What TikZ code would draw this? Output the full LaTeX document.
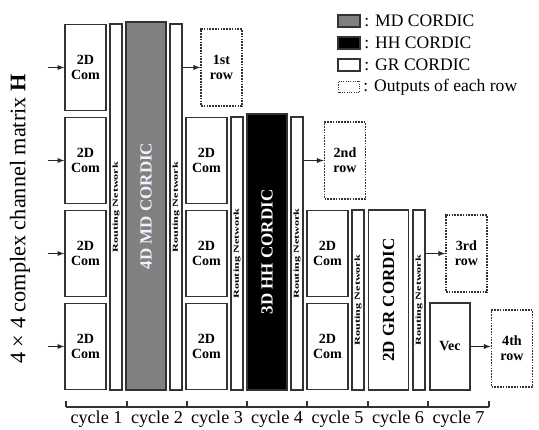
\documentclass[tikz,border=0pt]{standalone}
\usepackage{fontspec}
\setmainfont{Liberation Serif}
\usetikzlibrary{positioning,arrows}

\tikzset{
  blk/.style={draw=black!80, line width=1.2pt, inner sep=0pt},
  com/.style={blk, fill=white, minimum width=1.23cm, minimum height=2.58cm,
    align=center, font=\fontsize{12}{12.5}\selectfont\bfseries},
  rnet/.style={blk, fill=white, minimum width=0.36cm},
  rnettxt/.style={rotate=90, xscale=1.6, inner sep=0pt, font=\fontsize{6.5}{7}\selectfont\bfseries},
  cordic/.style={blk, minimum width=1.2cm},
  cordtxt/.style={rotate=90, inner sep=0pt, font=\fontsize{14.5}{15}\selectfont\bfseries},
  outrow/.style={draw=black!80, line width=1.4pt, densely dotted, inner sep=0pt,
    minimum width=1.23cm, minimum height=2.31cm, align=center,
    font=\fontsize{12}{12.5}\selectfont\bfseries},
  flow/.style={-latex, line width=1pt, black!85},
  legbox/.style={blk, minimum width=0.66cm, minimum height=0.36cm},
  legtxt/.style={inner sep=0pt, font=\fontsize{15}{16}\selectfont},
  cyc/.style={inner sep=0pt, font=\fontsize{15.5}{16}\selectfont}
}

\begin{document}
\begin{tikzpicture}[x=0.03cm, y=-0.03cm]
    \useasboundingbox (0,0) rectangle (539,430);

    % input label
    \node[rotate=90, font=\fontsize{19}{20}\selectfont] (hlab) at (20,219) {4 × 4 complex channel matrix \textbf{H}};

    % cycle 1
    \node[com] (c1r1) at (85.5,67.5) {2D\\Com};
    \node[com] (c1r2) at (85.5,160.5) {2D\\Com};
    \node[com] (c1r3) at (85.5,253.5) {2D\\Com};
    \node[com] (c1r4) at (85.5,346.5) {2D\\Com};
    \foreach \r in {1,...,4}
      \draw[flow] ([xshift=-0.5cm]c1r\r.west) -- (c1r\r.west);
    \node[rnet, minimum height=10.98cm, label={[rnettxt]center:Routing Network}] (rn1) at (116,207) {};

    % cycle 2
    \node[cordic, fill=black!50, minimum height=11.04cm,
      label={[cordtxt, text=blue!5]center:4D MD CORDIC}] (md) at (146,206) {};
    \node[rnet, minimum height=10.98cm, label={[rnettxt]center:Routing Network}] (rn2) at (176,207) {};
    \node[outrow] (out1) at (221.5,67.5) {1st\\row};
    \draw[flow] (rn2.east |- out1) -- (out1.west);

    % cycles 3 and 4
    \node[com] (c3r2) at (206.5,160.5) {2D\\Com};
    \node[com] (c3r3) at (206.5,253.5) {2D\\Com};
    \node[com] (c3r4) at (206.5,346.5) {2D\\Com};
    \node[rnet, minimum height=8.19cm, label={[rnettxt]center:Routing Network}] (rn3) at (237,253.5) {};
    \node[cordic, fill=black, minimum height=8.28cm,
      label={[cordtxt, text=white]center:3D HH CORDIC}] (hh) at (267,252) {};
    \node[rnet, minimum height=8.19cm, label={[rnettxt]center:Routing Network}] (rn4) at (297,253.5) {};
    \node[outrow] (out2) at (345,160.5) {2nd\\row};
    \draw[flow] (rn4.east |- out2) -- (out2.west);

    % cycles 5 and 6
    \node[com] (c5r3) at (327.5,253.5) {2D\\Com};
    \node[com] (c5r4) at (327.5,346.5) {2D\\Com};
    \node[rnet, minimum height=5.4cm, label={[rnettxt]center:Routing Network}] (rn5) at (358,300) {};
    \node[cordic, fill=white, minimum height=5.4cm,
      label={[cordtxt]center:2D GR CORDIC}] (gr) at (388.5,300) {};
    \node[rnet, minimum height=5.4cm, label={[rnettxt]center:Routing Network}] (rn6) at (419,300) {};
    \node[outrow] (out3) at (466.5,253.5) {3rd\\row};
    \draw[flow] (rn6.east |- out3) -- (out3.west);

    % cycle 7
    \node[blk, fill=white, minimum width=1.2cm, minimum height=2.61cm,
      font=\fontsize{12}{12.5}\selectfont\bfseries] (vec) at (450,346.5) {Vec};
    \node[outrow] (out4) at (512,348.5) {4th\\row};
    \draw[flow] (vec.east) -- (vec.east -| out4.west);

    % legend
    \node[legbox, fill=black!50] (lgmd) at (349,21) {};
    \node[legbox, fill=black] (lghh) at (349,43) {};
    \node[legbox, fill=white] (lggr) at (349,65) {};
    \node[legbox, draw=none, minimum width=0.6cm, minimum height=0.3cm] (lgout) at (349,87) {};
    \draw[black!80, line width=1pt, densely dotted] (lgout.south west) rectangle (lgout.north east);
    \node[legtxt, right=3pt of lgmd] (tmd) {: MD CORDIC};
    \node[legtxt, right=3pt of lghh] (thh) {: HH CORDIC};
    \node[legtxt, right=3pt of lggr] (tgr) {: GR CORDIC};
    \node[legtxt, right=3pt of lgout] (tout) {: Outputs of each row};

    % time axis
    \draw[line width=1pt, black!80] (66,407) -- (489,407);
    \foreach \x in {66,127,187,247,307,368,428,489}
      \draw[line width=1pt, black!80] (\x,407) -- (\x,401);
    \foreach \x/\n in {96.5/1,157/2,217/3,277/4,337.5/5,398/6,458.5/7}
      \node[cyc] (cy\n) at (\x,419) {cycle \n};

  \end{tikzpicture}
\end{document}
